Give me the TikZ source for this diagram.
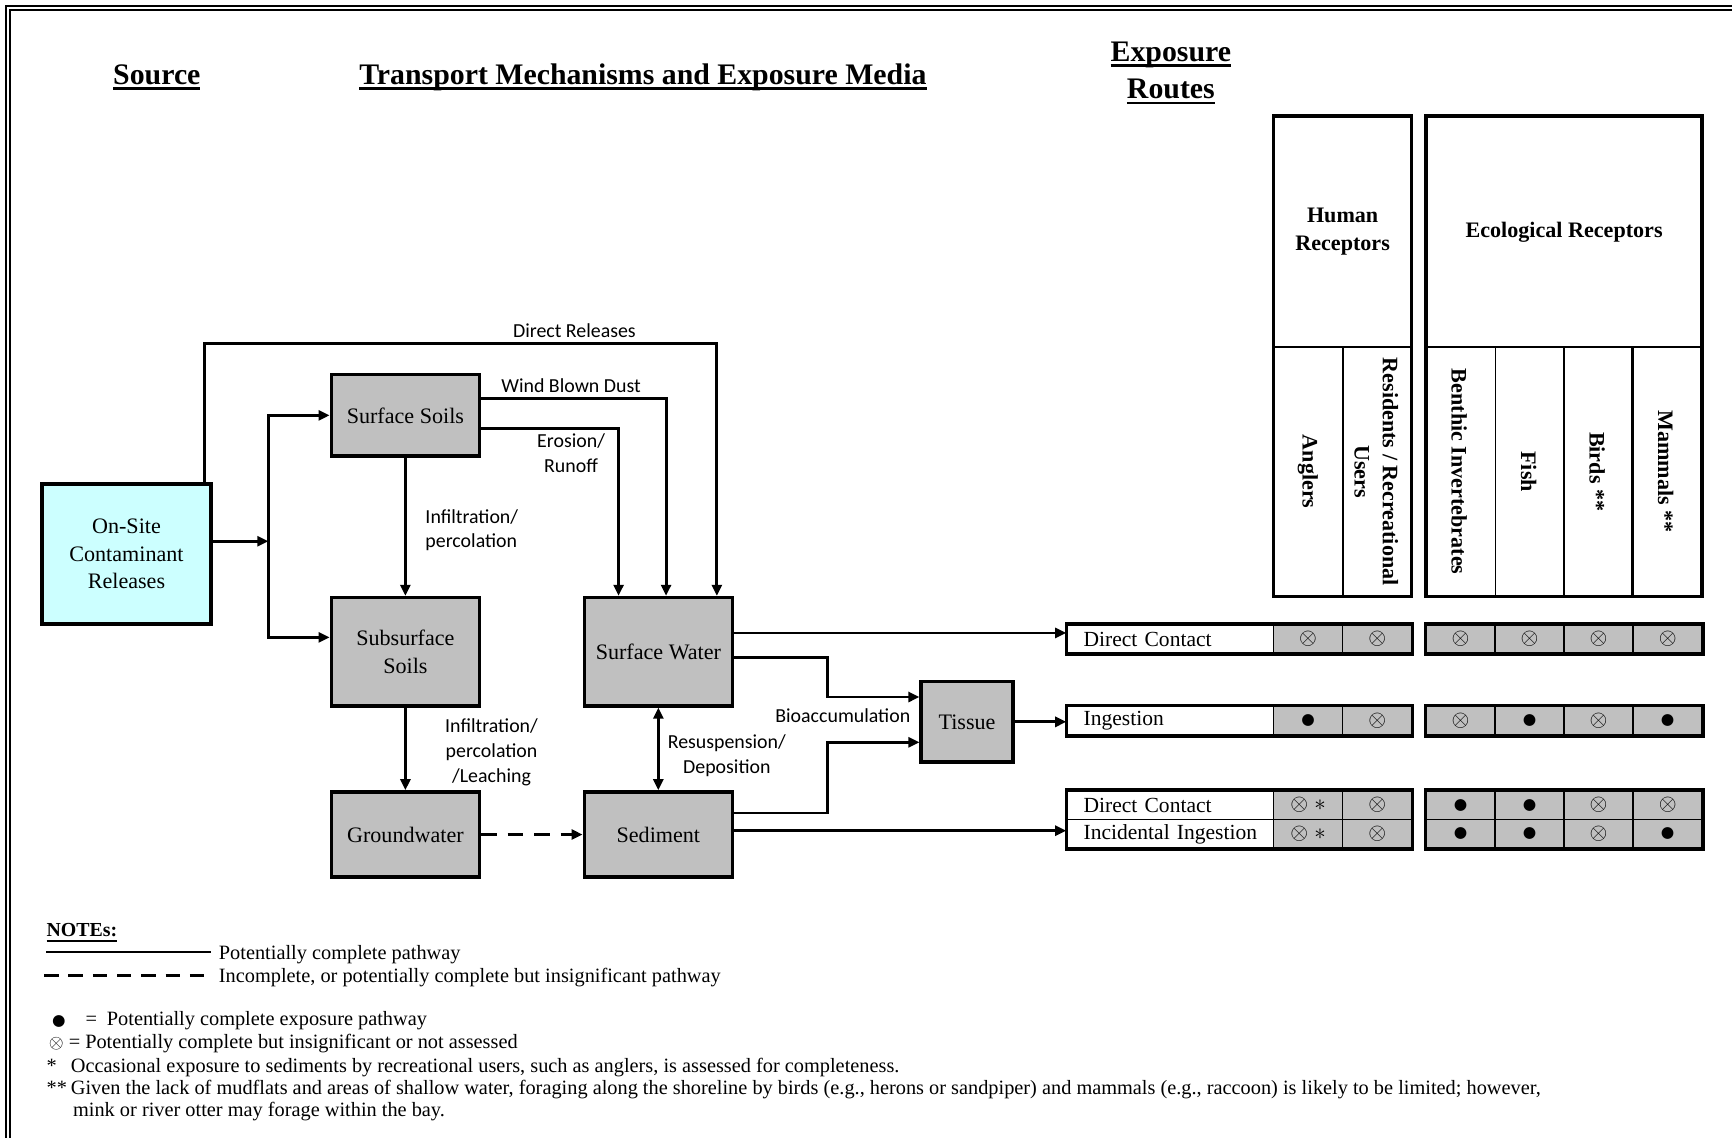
\documentclass[tikz,border=0pt]{standalone}
\usepackage{fontspec}
\setmainfont{Liberation Serif}
\newfontfamily\calfont{Carlito}
\newfontfamily\symfont{DejaVu Sans}
\usetikzlibrary{arrows.meta}
\definecolor{boxgray}{HTML}{C0C0C0}
\definecolor{srccyan}{HTML}{CCFFFF}
\newcommand{\hdrline}[2][2.4pt]{\setbox0\hbox{#2}\rlap{\rule[-5pt]{\wd0}{#1}}\box0}
\newcommand{\symx}{$\otimes$}
\newcommand{\symdot}{{\fontsize{14}{14}\symfont ●}}
\newcommand{\symxs}{$\otimes\;\ast$}
\begin{document}
\begin{tikzpicture}[x=1pt,y=-1pt,
  media/.style={draw, line width=3.2pt, fill=boxgray, inner sep=0pt, align=center,
    font=\fontsize{20}{25}\selectfont},
  lbl/.style={font=\calfont\fontsize{18}{22.5}\selectfont, align=center, inner sep=0pt},
  arr/.style={line width=2.6pt, -{Triangle[length=10pt,width=9pt]}},
  dbl/.style={line width=2.6pt, {Triangle[length=10pt,width=9pt]}-{Triangle[length=10pt,width=9pt]}},
  title/.style={font=\bfseries\fontsize{27}{34}\selectfont, align=center, inner sep=0pt},
  tblout/.style={line width=3.2pt},
  tblin/.style={line width=1.4pt},
  hdrtxt/.style={font=\bfseries\fontsize{20}{25.5}\selectfont, align=center, inner sep=0pt},
  coltxt/.style={hdrtxt, rotate=-90},
  rowlbl/.style={draw, line width=1.4pt, fill=white, minimum height=26pt, text width=157pt,
    inner xsep=15pt, inner ysep=0pt, align=left, font=\fontsize{19.5}{22}\selectfont},
  cell/.style={draw, line width=1.4pt, fill=boxgray, minimum width=62.5pt, minimum height=26pt,
    inner sep=0pt, font=\fontsize{20}{20}\selectfont},
  note/.style={font=\fontsize{18.4}{20}\selectfont, inner sep=0pt, anchor=west, align=left}]
\useasboundingbox (0,0) rectangle (1568,1030);
% frame
\draw[line width=1.8pt] (5,1030) -- (5,5) -- (1568,5);
\draw[line width=1.8pt] (9.5,1030) -- (9.5,9.5) -- (1568,9.5);

% column titles
\node[title] (srchdr) at (142,70) {\hdrline{Source}};
\node[title] (tmhdr) at (582,70) {\hdrline{Transport Mechanisms and Exposure Media}};
\node[title] (erhdr) at (1060,66) {\hdrline{Exposure}\\\hdrline{Routes}};

% source and media
\node[media, fill=srccyan, minimum width=153pt, minimum height=127pt] (src) at (114.5,501.5) {On-Site\\Contaminant\\Releases};
\node[media, minimum width=134pt, minimum height=74pt] (ssoil) at (367,376) {Surface Soils};
\node[media, minimum width=134pt, minimum height=98pt] (subsoil) at (367,590) {Subsurface\\Soils};
\node[media, minimum width=134pt, minimum height=77pt] (gw) at (367,755.5) {Groundwater};
\node[media, minimum width=134pt, minimum height=98pt] (sw) at (596,590) {Surface Water};
\node[media, minimum width=134pt, minimum height=77pt] (sed) at (596,755.5) {Sediment};
\node[media, minimum width=83pt, minimum height=73pt] (tis) at (875.5,653.5) {Tissue};
\coordinate (split) at (243,490);

% transport pathways
\draw[arr] (src.east |- split) -- (split);
\draw[arr] (split) |- (ssoil.west);
\draw[arr] (split) |- (subsoil.west |- 0,577);
\draw[arr] (src.north -| 185,0) |- (649,311) -- (sw.north -| 649,0);
\draw[arr] (ssoil.east |- 0,361) -| (sw.north -| 603,0);
\draw[arr] (ssoil.east |- 0,388) -| (sw.north -| 560,0);
\draw[arr] (ssoil) -- (subsoil);
\draw[arr] (subsoil) -- (gw);
\draw[arr, dash pattern=on 14pt off 10pt] (gw) -- (sed);
\draw[dbl] (sw) -- (sed);
\draw[arr] (sw.east |- 0,595) -| (749,631) -- (tis.west |- 0,631);
\draw[arr] (sed.east |- 0,736) -| (749,672) -- (tis.west |- 0,672);

\node[lbl] (drlbl) at (520,299) {Direct Releases};
\node[lbl] (wblbl) at (517,349) {Wind Blown Dust};
\node[lbl] (erlbl) at (517,410) {Erosion/\\Runoff};
\node[lbl, anchor=west, align=left] (inf1lbl) at (385,480) {Infiltration/\\percolation};
\node[lbl] (inf2lbl) at (445,681) {Infiltration/\\percolation\\/Leaching};
\node[lbl] (rslbl) at (658,684) {Resuspension/\\Deposition};
\node[lbl] (balbl) at (763,648) {Bioaccumulation};

% receptor headers
\draw[tblin] (1153,314) -- (1278,314) (1216,314) -- (1216,540);
\draw[tblout] (1153,105) rectangle (1278,540);
\draw[tblin] (1291,314) -- (1541,314) (1354,314) -- (1354,540) (1416,314) -- (1416,540);
\draw[line width=2.4pt] (1478,314) -- (1478,540);
\draw[tblout] (1291,105) rectangle (1541,540);
\node[hdrtxt] (humhdr) at (1215.5,210) {Human\\Receptors};
\node[hdrtxt] (ecohdr) at (1416,210) {Ecological Receptors};
\node[coltxt] (angl) at (1184,427) {Anglers};
\node[coltxt] (resid) at (1246,427) {Residents / Recreational\\Users};
\node[coltxt] (benth) at (1321,427) {Benthic Invertebrates};
\node[coltxt] (fish) at (1384,427) {Fish};
\node[coltxt] (birds) at (1446,427) {Birds **};
\node[coltxt] (mamm) at (1508,427) {Mammals **};

% exposure routes
\node[rowlbl] (rl1) at (1059.5,578.5) {Direct Contact};
\node[rowlbl] (rl2) at (1059.5,652.5) {Ingestion};
\node[rowlbl] (rl3) at (1059.5,729) {Direct Contact};
\node[rowlbl] (rl4) at (1059.5,755) {\mbox{Incidental Ingestion}};
\foreach \s [count=\i] in {\symx,\symx}
  \node[cell] (r1h\i) at ({1153+62.5*(\i-0.5)},578.5) {\s};
\foreach \s [count=\i] in {\symx,\symx,\symx,\symx}
  \node[cell] (r1e\i) at ({1291+62.5*(\i-0.5)},578.5) {\s};
\foreach \s [count=\i] in {\symdot,\symx}
  \node[cell] (r2h\i) at ({1153+62.5*(\i-0.5)},652.5) {\s};
\foreach \s [count=\i] in {\symx,\symdot,\symx,\symdot}
  \node[cell] (r2e\i) at ({1291+62.5*(\i-0.5)},652.5) {\s};
\foreach \s [count=\i] in {\symxs,\symx}
  \node[cell] (r3h\i) at ({1153+62.5*(\i-0.5)},729) {\s};
\foreach \s [count=\i] in {\symdot,\symdot,\symx,\symx}
  \node[cell] (r3e\i) at ({1291+62.5*(\i-0.5)},729) {\s};
\foreach \s [count=\i] in {\symxs,\symx}
  \node[cell] (r4h\i) at ({1153+62.5*(\i-0.5)},755) {\s};
\foreach \s [count=\i] in {\symdot,\symdot,\symx,\symdot}
  \node[cell] (r4e\i) at ({1291+62.5*(\i-0.5)},755) {\s};
\draw[tblout] (rl1.north west) rectangle (r1h2.south east);
\draw[tblout] (r1e1.north west) rectangle (r1e4.south east);
\draw[tblout] (rl2.north west) rectangle (r2h2.south east);
\draw[tblout] (r2e1.north west) rectangle (r2e4.south east);
\draw[tblout] (rl3.north west) rectangle (r4h2.south east);
\draw[tblout] (r3e1.north west) rectangle (r4e4.south east);

\draw[arr] (sw.east |- 0,573) -- (rl1.west |- 0,573);
\draw[arr] (tis.east) -- (rl2.west |- tis.east);
\draw[arr] (sed.east |- 0,752) -- (rl4.west |- 0,752);

% notes
\node[note, font=\bfseries\fontsize{18}{20}\selectfont] (noteshdr) at (42,844) {\hdrline[1.6pt]{NOTEs:}};
\coordinate (solidstart) at (42,862);
\node[note] (solidnote) at (198,864) {Potentially complete pathway};
\draw[line width=2.4pt, shorten >=7pt] (solidstart) -- (solidnote.west |- solidstart);
\coordinate (dashstart) at (40,883);
\node[note] (dashnote) at (198,885) {Incomplete, or potentially complete but insignificant pathway};
\draw[line width=2.4pt, dash pattern=on 13pt off 9pt, shorten >=7pt] (dashstart) -- (dashnote.west |- dashstart);
\node[note] (dotnote) at (47,924) {\symdot\hspace{18pt}=\hspace{9pt}Potentially complete exposure pathway};
\node[note] (xnote) at (44,945) {\symx\ = Potentially complete but insignificant or not assessed};
\node[note] (starnote) at (42,966) {\makebox[22pt][l]{*}Occasional exposure to sediments by recreational users, such as anglers, is assessed for completeness.};
\node[note] (dstarnote) at (42,996) {\makebox[22pt][l]{**}Given the lack of mudflats and areas of shallow water, foraging along the shoreline by birds (e.g., herons or sandpiper) and mammals (e.g., raccoon) is likely to be limited; however,\\\hspace{24pt}mink or river otter may forage within the bay.};
\end{tikzpicture}
\end{document}
